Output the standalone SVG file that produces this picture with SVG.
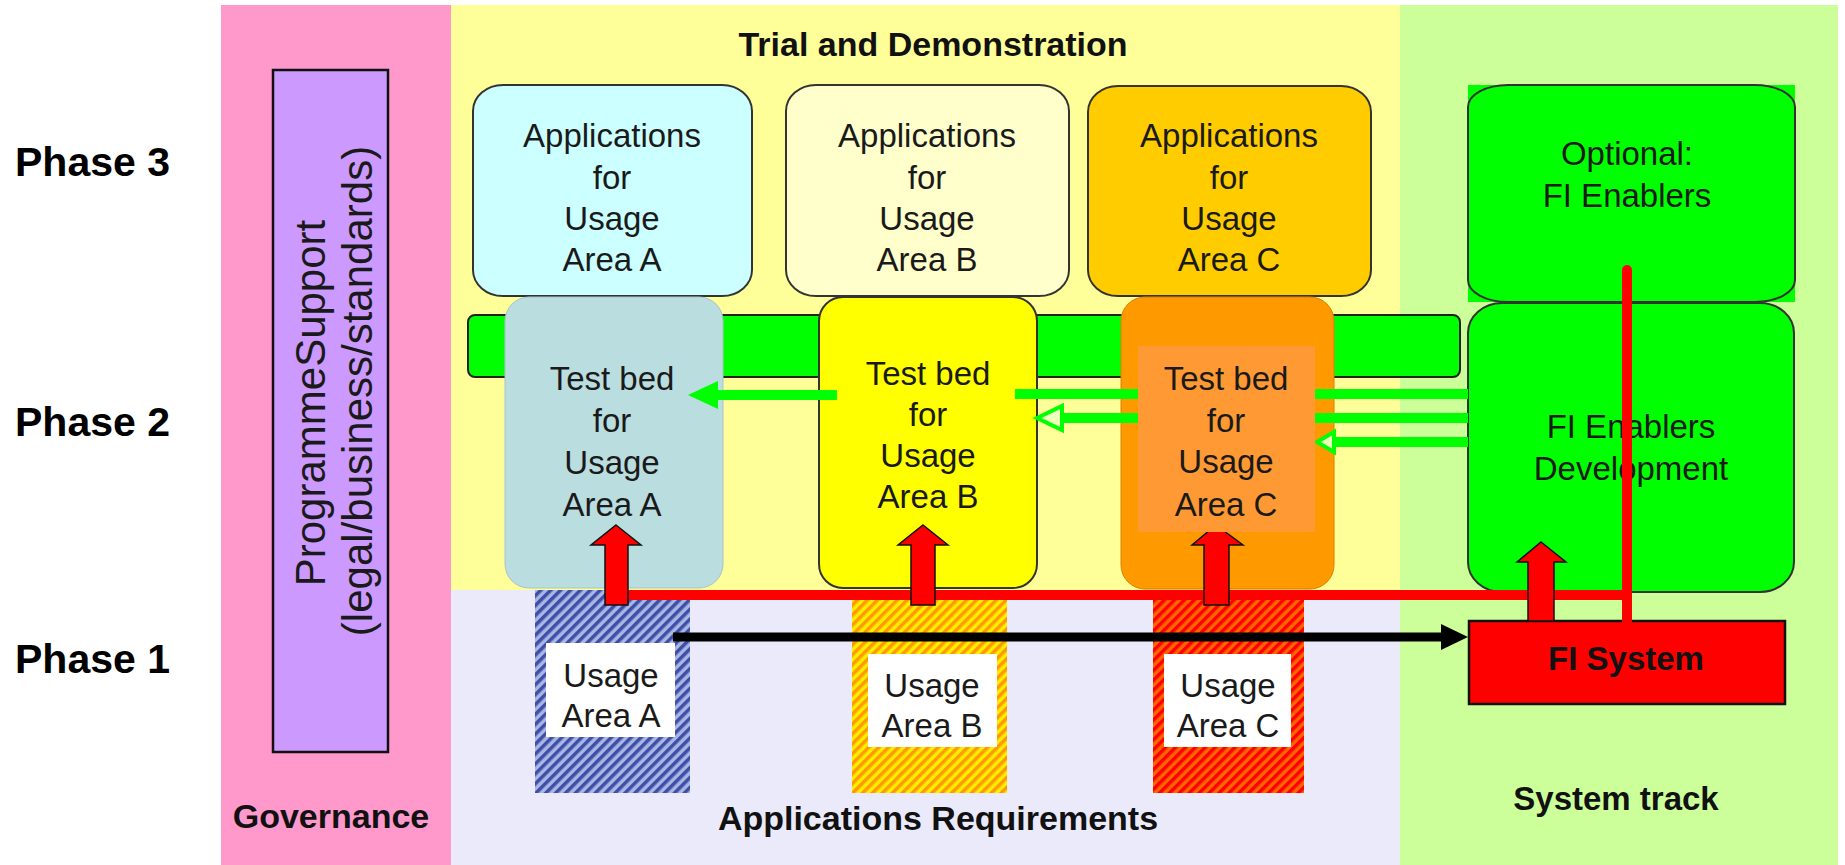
<svg xmlns="http://www.w3.org/2000/svg" width="1845" height="865" viewBox="0 0 1845 865">
<style>
.t{font-family:"Liberation Sans",Arial,sans-serif;font-size:33px;fill:#1a1a1a;text-anchor:middle}
.b{font-family:"Liberation Sans",Arial,sans-serif;font-weight:bold;fill:#111;text-anchor:middle}
.ph{font-family:"Liberation Sans",Arial,sans-serif;font-weight:bold;font-size:41px;fill:#000}
.rot{font-family:"Liberation Sans",Arial,sans-serif;font-size:42px;fill:#1a1a1a;text-anchor:middle}
.box{stroke:#333;stroke-width:2}
.garrow{fill:#00FF00}
.hollow{fill:#EEFFBB;stroke:#00FF00;stroke-width:4;stroke-linejoin:miter}
.redarrow{fill:#FF0000;stroke:#111;stroke-width:1.5;stroke-linejoin:miter}
</style>
<defs>
<pattern id="hatchA" patternUnits="userSpaceOnUse" width="7" height="7" patternTransform="rotate(45)">
<rect width="7" height="7" fill="#A9B6E6"/><rect width="3.5" height="7" fill="#3E4FA6"/>
</pattern>
<pattern id="hatchB" patternUnits="userSpaceOnUse" width="7" height="7" patternTransform="rotate(45)">
<rect width="7" height="7" fill="#FFEE00"/><rect width="3.5" height="7" fill="#FF9900"/>
</pattern>
<pattern id="hatchC" patternUnits="userSpaceOnUse" width="7" height="7" patternTransform="rotate(45)">
<rect width="7" height="7" fill="#FF6600"/><rect width="3.5" height="7" fill="#FF0000"/>
</pattern>
</defs>
<rect width="1845" height="865" fill="#FFFFFF"/>
<g id="lanes">
<rect x="221" y="5" width="230" height="860" fill="#FF99CC"/>
<rect x="451" y="5" width="949" height="585" fill="#FFFF99"/>
<rect x="451" y="590" width="949" height="275" fill="#EAEAFB"/>
<rect x="1400" y="5" width="438" height="860" fill="#CCFF99"/>
<text class="b" x="933" y="56" font-size="34">Trial and Demonstration</text>
<text class="b" x="331" y="828" font-size="34">Governance</text>
<text class="b" x="938" y="830" font-size="34">Applications Requirements</text>
<text class="b" x="1616" y="810" font-size="33">System track</text>
</g>
<g id="phases">
<text class="ph" x="15" y="176">Phase 3</text>
<text class="ph" x="15" y="436">Phase 2</text>
<text class="ph" x="15" y="673">Phase 1</text>
</g>
<g id="programme-support">
<rect x="273" y="70" width="115" height="682" fill="#CC99FF" stroke="#111" stroke-width="2.5"/>
<text class="rot" transform="translate(325,403) rotate(-90)">ProgrammeSupport</text>
<text class="rot" transform="translate(372,391) rotate(-90)">(legal/business/standards)</text>
</g>
<g id="app-a">
<rect class="box" x="473" y="85" width="279" height="211" rx="30" ry="26" fill="#CCFFFF" stroke="#555"/>
<text class="t" x="612" y="147">Applications</text><text class="t" x="612" y="189">for</text><text class="t" x="612" y="230">Usage</text><text class="t" x="612" y="271">Area A</text>
</g>
<g id="app-b">
<rect class="box" x="786" y="85" width="283" height="211" rx="30" ry="26" fill="#FFFFCC"/>
<text class="t" x="927" y="147">Applications</text><text class="t" x="927" y="189">for</text><text class="t" x="927" y="230">Usage</text><text class="t" x="927" y="271">Area B</text>
</g>
<g id="app-c">
<rect class="box" x="1088" y="86" width="283" height="210" rx="30" ry="26" fill="#FFCC00" stroke="#555"/>
<text class="t" x="1229" y="147">Applications</text><text class="t" x="1229" y="189">for</text><text class="t" x="1229" y="230">Usage</text><text class="t" x="1229" y="271">Area C</text>
</g>
<g id="optional-fi-enablers">
<rect x="1468" y="85" width="327" height="217" fill="#00FF00"/>
<rect class="box" x="1468" y="85" width="327" height="217" rx="40" ry="22" fill="#00FF00"/>
<text class="t" x="1627" y="165">Optional:</text><text class="t" x="1627" y="207">FI Enablers</text>
</g>
<g id="platform-band">
<rect x="468" y="315" width="992" height="62" rx="7" ry="7" fill="#00FF00" stroke="#222" stroke-width="2"/>
</g>
<g id="testbed-a">
<rect x="505" y="297" width="218" height="291" rx="24" ry="24" fill="#BADDE0" stroke="#A8C4C8" stroke-width="1"/>
<text class="t" x="612" y="390">Test bed</text><text class="t" x="612" y="432">for</text><text class="t" x="612" y="474">Usage</text><text class="t" x="612" y="516">Area A</text>
</g>
<g id="testbed-b">
<rect class="box" x="819" y="297" width="218" height="291" rx="24" ry="24" fill="#FFFF00" stroke="#111"/>
<text class="t" x="928" y="385">Test bed</text><text class="t" x="928" y="426">for</text><text class="t" x="928" y="467">Usage</text><text class="t" x="928" y="508">Area B</text>
</g>
<g id="testbed-c">
<rect x="1121" y="297" width="213" height="292" rx="24" ry="24" fill="#FF9900" stroke="#D98200" stroke-width="1"/>
</g>
<g id="fi-enablers-development">
<rect class="box" x="1468" y="303" width="326" height="289" rx="34" ry="30" fill="#00FF00"/>
<text class="t" x="1631" y="438">FI Enablers</text><text class="t" x="1631" y="480">Development</text>
</g>
<g id="usage-area-a">
<rect x="535" y="590" width="155" height="203" fill="url(#hatchA)"/>
<rect x="546" y="643" width="129" height="94" fill="#FFFFFF"/>
<text class="t" x="611" y="687">Usage</text><text class="t" x="611" y="727">Area A</text>
</g>
<g id="usage-area-b">
<rect x="852" y="590" width="155" height="203" fill="url(#hatchB)"/>
<rect x="868" y="654" width="129" height="93" fill="#FFFFFF"/>
<text class="t" x="932" y="697">Usage</text><text class="t" x="932" y="737">Area B</text>
</g>
<g id="usage-area-c">
<rect x="1153" y="590" width="151" height="203" fill="url(#hatchC)"/>
<rect x="1164" y="654" width="127" height="93" fill="#FFFFFF"/>
<text class="t" x="1228" y="697">Usage</text><text class="t" x="1228" y="737">Area C</text>
</g>
<g id="fi-system">
<rect x="1469" y="621" width="316" height="83" fill="#FF0000" stroke="#111" stroke-width="2.5"/>
<text class="b" x="1626" y="670" font-size="33">FI System</text>
</g>
<g id="connectors">
<rect class="garrow" x="715" y="390" width="122" height="10"/>
<polygon class="garrow" points="688,395 718,381 718,409"/>
<rect class="garrow" x="1015" y="389" width="123" height="10"/>
<rect class="garrow" x="1060" y="413" width="78" height="10"/>
<polygon class="hollow" points="1037,418 1062,406 1062,430"/>
<rect class="garrow" x="1315" y="389" width="153" height="10"/>
<rect class="garrow" x="1315" y="413" width="153" height="10"/>
<rect class="garrow" x="1334" y="437" width="134" height="10"/>
<polygon class="hollow" points="1317,442 1334,432 1334,452"/>
<line x1="612" y1="595" x2="1632" y2="595" stroke="#FF0000" stroke-width="10"/>
<line x1="1627" y1="270" x2="1627" y2="621" stroke="#FF0000" stroke-width="10" stroke-linecap="round"/>
<polygon class="redarrow" points="616,525 641,545 628,545 628,605 605,605 605,545 591,545"/>
<polygon class="redarrow" points="923,525 948,545 935,545 935,605 911,605 911,545 898,545"/>
<polygon class="redarrow" points="1216,525 1243,545 1229,545 1229,605 1204,605 1204,545 1192,545"/>
<polygon class="redarrow" points="1541,542 1566,562 1554,562 1554,621 1528,621 1528,562 1517,562" stroke="#600" stroke-width="1"/>
<line x1="673" y1="637" x2="1446" y2="637" stroke="#000" stroke-width="9"/>
<polygon points="1468,637 1441,624 1441,650" fill="#000"/>
</g>
<g id="testbed-c-label">
<rect x="1138" y="346" width="177" height="186" fill="#FF9933"/>
<text class="t" x="1226" y="390">Test bed</text><text class="t" x="1226" y="432">for</text><text class="t" x="1226" y="473">Usage</text><text class="t" x="1226" y="516">Area C</text>
</g>
</svg>
